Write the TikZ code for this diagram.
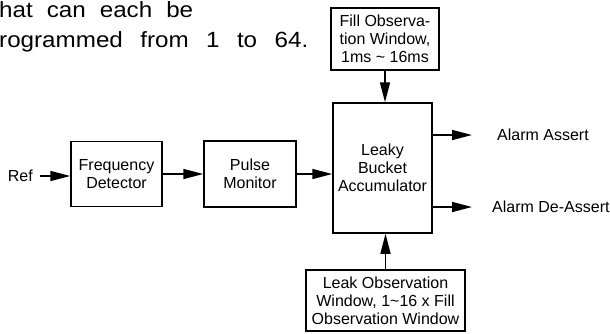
\documentclass[tikz,border=0pt]{standalone}
\usepackage{fontspec}
\setmainfont{Liberation Sans}
\usetikzlibrary{arrows.meta}
\begin{document}
\begin{tikzpicture}[x=1pt,y=-1pt,
  blk/.style={draw,line width=1.5pt,align=center,font=\fontsize{16}{18}\selectfont,inner sep=0pt},
  arr/.style={line width=1.5pt,-{Triangle[length=20pt,width=10pt]}},
  lbl/.style={font=\fontsize{16}{18}\selectfont,inner sep=0pt},
  toptxt/.style={font=\fontsize{22}{24}\selectfont,inner sep=0pt,anchor=base west}]
\useasboundingbox (0,0) rectangle (610,333);
% top paragraph fragment (justified lines)
\node[toptxt] (t1) at (-1,17) {\scalebox{1.1}[1]{\makebox[176.4pt][s]{hat can each be}}};
\node[toptxt] (t2) at (-1,47) {\scalebox{1.1}[1]{\makebox[281pt][s]{rogrammed from 1 to 64.}}};
% boxes
\node[blk,minimum width=108pt,minimum height=62pt] (fill) at (385,39) {Fill Observa-\\tion Window,\\1ms \textasciitilde{} 16ms};
\node[blk,minimum width=99pt,minimum height=130pt] (leaky) at (382.5,168) {Leaky\\Bucket\\Accumulator};
\node[blk,minimum width=159pt,minimum height=61pt] (leak) at (385.5,300.5) {Leak Observation\\Window, 1\textasciitilde16 x Fill\\Observation Window};
\node[blk,minimum width=91pt,minimum height=65pt] (fd) at (116.5,174) {Frequency\\Detector};
\node[blk,minimum width=92pt,minimum height=66pt] (pm) at (250,174) {Pulse\\Monitor};
% labels
\node[lbl,anchor=east] (ref) at (33,176) {Ref};
\node[lbl,anchor=west] (aa) at (497,135) {Alarm Assert};
\node[lbl,anchor=west] (ad) at (492,207) {Alarm De-Assert};
\coordinate (aaend) at (472,135);
\coordinate (adend) at (472,207);
% connectors
\draw[arr] ([xshift=7pt]ref.east) -- (ref.east -| fd.west);
\draw[arr] (fd.east) -- (fd.east -| pm.west);
\draw[arr] (pm.east) -- (pm.east -| leaky.west);
\draw[arr] (fill.south) -- (fill.south |- leaky.north);
\draw[arr] (leak.north) -- (leak.north |- leaky.south);
\draw[arr] (leaky.east |- aaend) -- (aaend);
\draw[arr] (leaky.east |- adend) -- (adend);
\end{tikzpicture}
\end{document}
